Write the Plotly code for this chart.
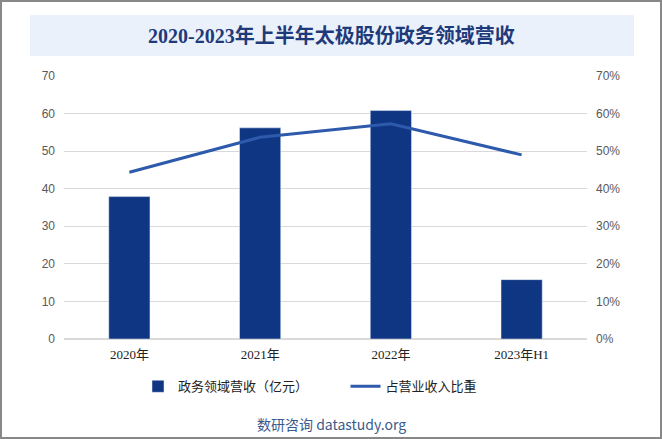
import plotly.graph_objects as go

categories = ["2020年", "2021年", "2022年", "2023年H1"]
revenue = [37.9, 56.2, 60.8, 15.8]
share = [0.444, 0.537, 0.573, 0.490]

bar_name = "政务领域营收（亿元）"
line_name = "占营业收入比重"
title_text = "2020-2023年上半年太极股份政务领域营收"
source_text = "数研咨询 datastudy.org"

fig = go.Figure()
fig.add_trace(go.Bar(x=categories, y=revenue, name=bar_name + "\u3000\u3000\u3000",
                     marker=dict(color="#0F3683"), width=0.315))
fig.add_trace(go.Scatter(x=categories, y=share, name=line_name, mode="lines",
                         line=dict(color="#2E5AAC", width=3), yaxis="y2"))

fig.update_layout(
    width=662, height=439,
    margin=dict(l=64, r=75, t=76, b=100),
    paper_bgcolor="white", plot_bgcolor="white",
    showlegend=True,
    font=dict(family="Liberation Sans, Noto Sans CJK SC", size=12, color="#595959"),
    xaxis=dict(showgrid=False, showline=False, ticks="", ticklabelstandoff=6,
               tickfont=dict(family="Liberation Serif, Noto Sans CJK SC", size=13, color="#222222")),
    yaxis=dict(range=[0, 70], dtick=10, showgrid=True, gridcolor="#D9D9D9", gridwidth=1,
               zeroline=True, zerolinecolor="#D9D9D9", ticks="", ticklabelstandoff=8,
               tickfont=dict(size=12, color="#595959")),
    yaxis2=dict(range=[0, 0.7], dtick=0.1, tickformat=".0%", overlaying="y", side="right",
                showgrid=False, zeroline=False, ticks="", ticklabelstandoff=8,
                tickfont=dict(size=12, color="#595959")),
    legend=dict(orientation="h", x=(138 - 64) / 523, xanchor="left", y=-0.18, yanchor="middle",
                font=dict(size=13, color="#222222", family="Noto Sans CJK SC"),
                itemwidth=30, tracegroupgap=0, bgcolor="rgba(0,0,0,0)"),
    bargap=0.5,
)

fig.add_shape(type="rect", xref="paper", yref="paper",
              x0=(30 - 64) / 523, x1=(634 - 64) / 523,
              y0=(339 - 56) / 263, y1=(339 - 15) / 263,
              fillcolor="#EAF1FB", line=dict(width=0), layer="below")
fig.add_annotation(text="<b>" + title_text + "</b>", xref="paper", yref="paper",
                   x=(331 - 64) / 523, y=(339 - 36) / 263, showarrow=False,
                   xanchor="center", yanchor="middle",
                   font=dict(family="Liberation Serif, Noto Sans CJK SC", size=20, color="#1F3A7A"))
fig.add_annotation(text=source_text, xref="paper", yref="paper",
                   x=(331 - 64) / 523, y=(339 - 424) / 263, showarrow=False,
                   xanchor="center", yanchor="middle",
                   font=dict(family="Noto Sans CJK SC, Liberation Sans", size=14, color="#3A5A8C"))
fig.add_shape(type="rect", xref="paper", yref="paper",
              x0=(1 - 64) / 523, x1=(661 - 64) / 523,
              y0=(339 - 438) / 263, y1=(339 - 1) / 263,
              line=dict(color="#888888", width=2), fillcolor="rgba(0,0,0,0)")

fig.write_html("out.html", config={"displayModeBar": False},
               post_script="document.body.style.margin='0';document.body.style.overflow='hidden';")
